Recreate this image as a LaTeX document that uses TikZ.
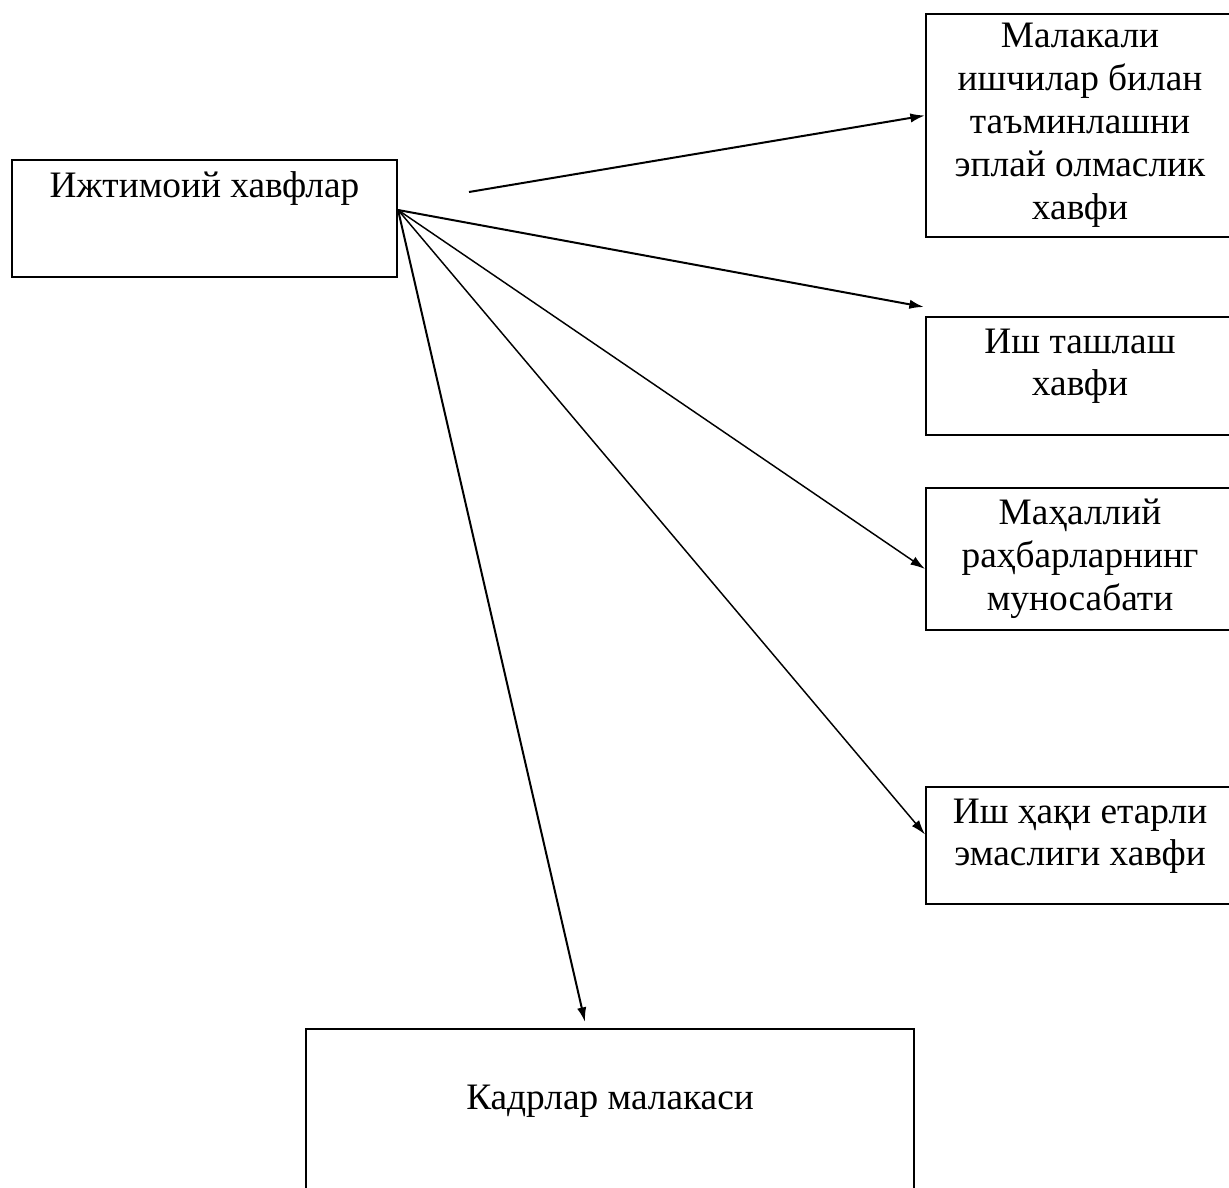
\documentclass[tikz,border=0pt]{standalone}
\usepackage{fontspec}
\setmainfont{Liberation Serif}
\usepackage{tikz}
\usetikzlibrary{arrows.meta,calc}
\tikzstyle{mainbox} = [rectangle, draw=black, line width=0.75pt, inner sep=0pt, font=\fontsize{14pt}{16.1pt}\selectfont]
\tikzstyle{riskbox} = [rectangle, draw=black, line width=0.75pt, inner sep=0pt, align=center, minimum width=115.5pt, font=\fontsize{14pt}{16.1pt}\selectfont]
\tikzstyle{arrow} = [line width=0.75pt, -{Latex[length=5.5pt,width=3.5pt]}]
\tikzstyle{thinarrow} = [arrow, line width=0.55pt]

\begin{document}
\begin{tikzpicture}[x=0.375pt, y=-0.375pt]
\useasboundingbox (0,0) rectangle (1229,1187);
\node (social) [mainbox, anchor=north west, minimum width=144.4pt, text height=13.9pt, text depth=30pt] at (11,159) {Ижтимоий хавфлар};
\node (skilled) [riskbox, minimum height=83.6pt] at (1080,125.5) {Малакали\\ишчилар билан\\таъминлашни\\эплай олмаслик\\хавфи};
\node (strike) [riskbox, anchor=north, text height=29.6pt, text depth=14.6pt] at (1080,316) {Иш ташлаш\\хавфи};
\node (local) [riskbox, minimum height=53.25pt] at (1080,559) {Маҳаллий\\раҳбарларнинг\\муносабати};
\node (wage) [riskbox, anchor=north, text height=29.6pt, text depth=14.25pt] at (1080,786) {Иш ҳақи етарли\\эмаслиги хавфи};
\node (staff) [mainbox, anchor=north, minimum width=228pt, text height=30pt, text depth=34.5pt] at (610,1028) {Кадрлар малакаси};

\coordinate (hub) at ($(social.north east)+(0,51)$);
\coordinate (lead) at (469,192);

\draw [arrow] (lead) -- ($(skilled.west)+(0,-10)$);
\draw [arrow] (hub) -- ($(strike.north west)+(-1,-9)$);
\draw [thinarrow] (hub) -- ($(local.west)+(0,10)$);
\draw [thinarrow] (hub) -- ($(wage.west)+(0,-11)$);
\draw [arrow] (hub) -- ($(staff.north)+(-25,-6)$);
\end{tikzpicture}
\end{document}
